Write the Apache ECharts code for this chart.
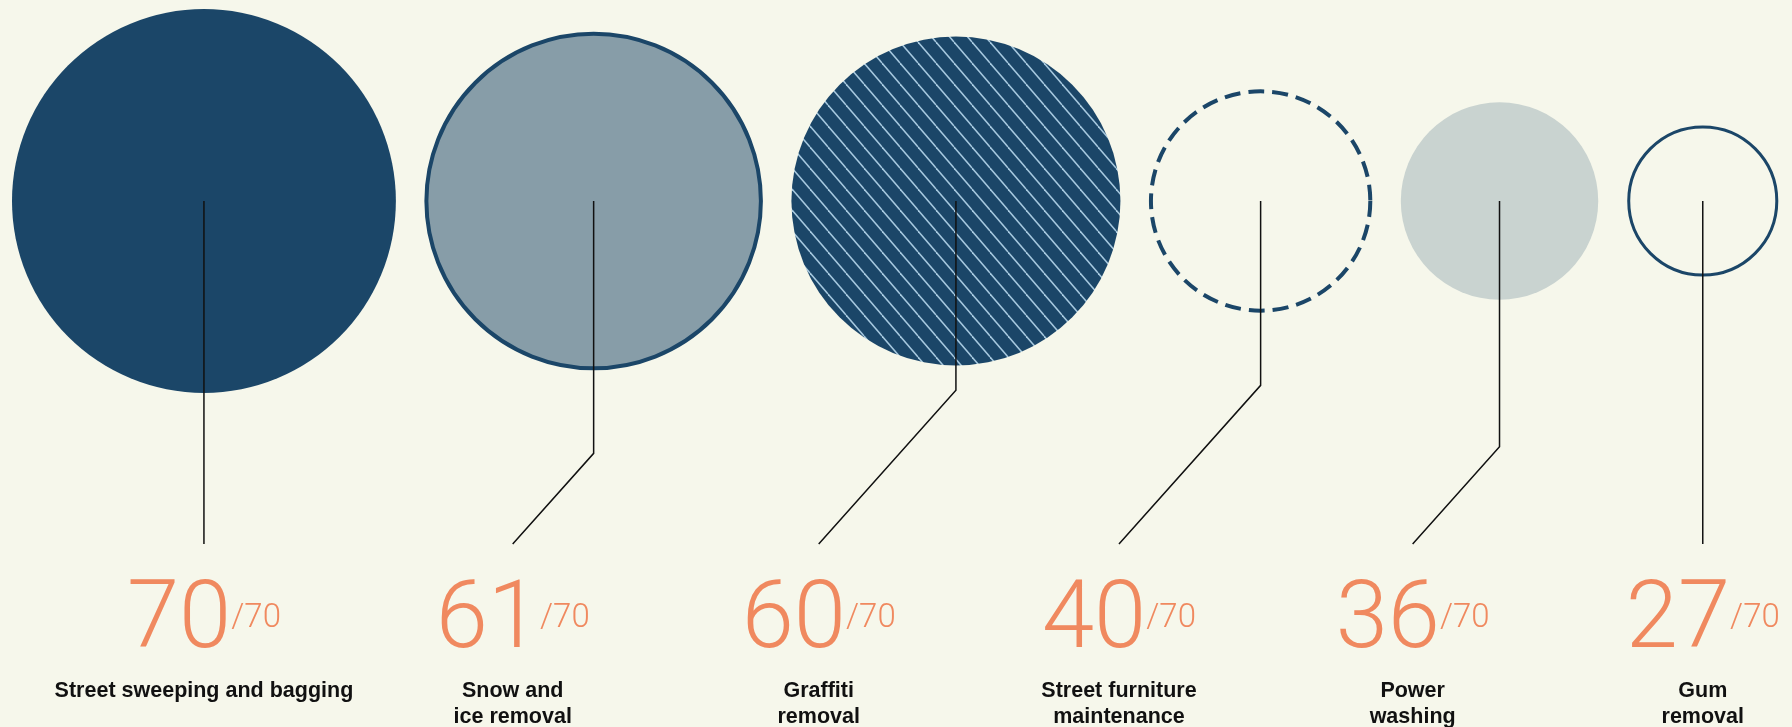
<!DOCTYPE html>
<html>
<head>
<meta charset="utf-8">
<script src="https://cdn.jsdelivr.net/npm/echarts@6/dist/echarts.min.js"></script>
<style>
html,body{margin:0;padding:0;background:#f6f7eb;}
#chart{width:1792px;height:727px;}
</style>
</head>
<body>
<div id="chart"></div>
<script>
// ---- data ----
const categories = [
  'Street sweeping and bagging',
  'Snow and\nice removal',
  'Graffiti\nremoval',
  'Street furniture\nmaintenance',
  'Power\nwashing',
  'Gum\nremoval'
];
const scores = [70, 61, 60, 40, 36, 27];
const maxScore = 70;

// ---- layout constants (pixel-like axis units) ----
const W = 1792, H = 727;
const R_PER_POINT = 2.742;   // circle radius per score point
const GAP = 30.5;            // gap between neighbouring circles
const LEFT_PAD = 12;
const CY = 201;              // circle centre line
const LINE_END_Y = 544;      // leader line end
const SLOPE = 1.12;          // dy/dx of the diagonal leader part
const PULL = 0.1;            // how much label anchors are pulled toward their circle
const NUM_Y = 623;
const LABEL_TOP = 678;

const DARK = '#1b4668';
const ORANGE = '#f0895f';

// hatch pattern tile
function makeHatch() {
  const tw = 18, th = 21;
  const c = document.createElement('canvas');
  c.width = tw; c.height = th;
  const ctx = c.getContext('2d');
  ctx.fillStyle = DARK;
  ctx.fillRect(0, 0, tw, th);
  ctx.strokeStyle = '#a7c9df';
  ctx.lineWidth = 1.5;
  for (let k = -1; k <= 1; k++) {
    ctx.beginPath();
    ctx.moveTo(k * tw, 0);
    ctx.lineTo(k * tw + tw, th);
    ctx.stroke();
  }
  return c;
}
const hatch = { image: makeHatch(), repeat: 'repeat' };

const circleStyles = [
  { fill: DARK, stroke: null, lineWidth: 0 },
  { fill: '#879da8', stroke: DARK, lineWidth: 4 },
  { fill: hatch, stroke: null, lineWidth: 0 },
  { fill: 'none', stroke: DARK, lineWidth: 4, lineDash: [16, 8] },
  { fill: '#c9d3d0', stroke: null, lineWidth: 0 },
  { fill: 'none', stroke: DARK, lineWidth: 3 }
];

// circle centres packed from their radii
const radii = scores.map(v => v * R_PER_POINT);
const centers = [];
radii.forEach((r, i) => {
  centers.push(i === 0 ? LEFT_PAD + r : centers[i - 1] + radii[i - 1] + GAP + r);
});
// label anchors: even spread between first and last circle, pulled slightly toward own circle
const n = scores.length;
const anchors = scores.map((_, i) => {
  const even = centers[0] + i * (centers[n - 1] - centers[0]) / (n - 1);
  return even + PULL * (centers[i] - even);
});

const seriesData = scores.map((v, i) => [centers[i], v, anchors[i], i]);

const chart = echarts.init(document.getElementById('chart'), null, { renderer: 'canvas' });
chart.setOption({
  backgroundColor: '#f6f7eb',
  animation: false,
  grid: { left: 0, right: 0, top: 0, bottom: 0 },
  xAxis: { type: 'value', min: 0, max: W, show: false },
  yAxis: { type: 'value', min: 0, max: H, inverse: true, show: false },
  series: [{
    type: 'custom',
    data: seriesData,
    renderItem: function (params, api) {
      const i = api.value(3);
      const v = api.value(1);
      const c = api.coord([api.value(0), CY]);
      const r = api.size([v * R_PER_POINT, 0])[0];
      const endP = api.coord([api.value(2), LINE_END_Y]);
      const dx = Math.abs(c[0] - endP[0]);
      const elbowY = endP[1] - dx * SLOPE;
      const st = circleStyles[i];
      const circleStyle = { fill: st.fill, stroke: st.stroke, lineWidth: st.lineWidth };
      if (st.lineDash) circleStyle.lineDash = st.lineDash;
      const numY = api.coord([0, NUM_Y])[1];
      const labY = api.coord([0, LABEL_TOP])[1];
      return {
        type: 'group',
        children: [
          { type: 'circle', shape: { cx: c[0], cy: c[1], r: r }, style: circleStyle },
          {
            type: 'polyline',
            shape: { points: [[c[0], c[1]], [c[0], elbowY], [endP[0], endP[1]]] },
            style: { stroke: '#111', lineWidth: 1.5, fill: null }
          },
          {
            type: 'text',
            style: {
              text: '{n|' + v + '}{d|/' + maxScore + '}',
              x: endP[0], y: numY,
              align: 'center', verticalAlign: 'middle',
              rich: {
                n: { fontFamily: 'Roboto', fontWeight: 300, fontSize: 94, lineHeight: 94, fill: ORANGE },
                d: { fontFamily: 'Roboto', fontWeight: 300, fontSize: 33, lineHeight: 33, fill: ORANGE, padding: [0, 0, 8, 0] }
              }
            }
          },
          {
            type: 'text',
            style: {
              text: categories[i],
              x: endP[0], y: labY,
              align: 'center', verticalAlign: 'top',
              fontFamily: '"Liberation Sans", Arial, sans-serif',
              fontWeight: 'bold', fontSize: 21.5, lineHeight: 26,
              fill: '#111'
            }
          }
        ]
      };
    }
  }]
});
</script>
</body>
</html>
